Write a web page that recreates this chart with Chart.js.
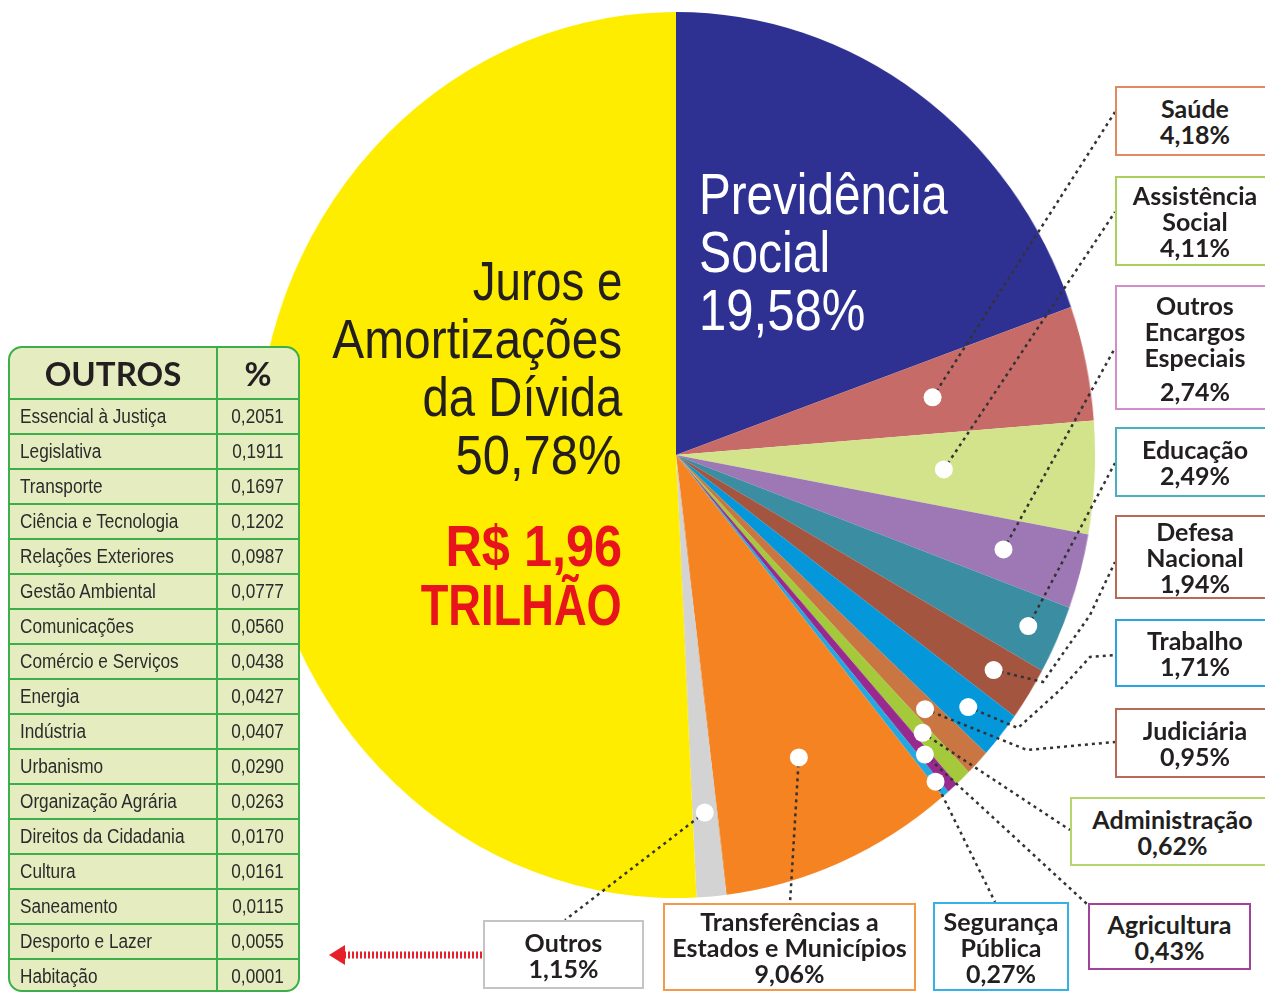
<!DOCTYPE html>
<html lang="pt-BR">
<head>
<meta charset="utf-8">
<title>Orçamento Geral da União</title>
<script src="https://cdn.jsdelivr.net/npm/chart.js@4.4.1/dist/chart.umd.min.js"></script>
<style>
    body { margin: 0; background: #fff; overflow: hidden; }
    #stage { position: relative; width: 1265px; height: 993px; overflow: hidden; }
    /* pie is drawn round and squeezed a little sideways, like the original */
    #pie { position: absolute; left: 233px; top: 12px; transform: scaleX(0.946); transform-origin: 443px 0; }
    #overlay { position: absolute; left: 0; top: 0; }
    .pieText { position: absolute; font-family: "Liberation Sans", Arial, sans-serif; white-space: nowrap; }
    .pieText span { display: inline-block; }
    .box {
        position: absolute; box-sizing: border-box; background: #fff;
        border: 2.5px solid #999; display: flex; flex-direction: column;
        justify-content: center; align-items: center; text-align: center;
        font-family: Lato, "Open Sans", sans-serif; font-weight: 700;
        font-size: 25px; line-height: 26px; color: #231f20;
    }
    #others {
        position: absolute; left: 8px; top: 346px; width: 292px; height: 646px;
        border: 2px solid #3cae4a; border-radius: 14px; background: #e5edc0;
        overflow: hidden; box-sizing: border-box;
    }
    #others table { border-collapse: collapse; width: 100%; }
    #others td {
        border: 2px solid #3cae4a; height: 33px; padding: 0; color: #2b2b2b;
        font-family: "Liberation Sans", Arial, sans-serif; font-size: 20px;
    }
    #others td span { display: inline-block; transform: scaleX(0.86); }
    #others td:first-child { border-left: none; padding-left: 10px; }
    #others td:first-child span { transform-origin: 0 50%; }
    #others td:last-child { border-right: none; text-align: center; }
    #others tr:last-child td { border-bottom: none; }
    #others th {
        height: 48px; font-family: Lato, sans-serif; font-weight: 700; font-size: 33px;
        color: #231f20; border-right: 2px solid #3cae4a; border-bottom: 2px solid #3cae4a;
    }
    #others th:last-child { border-right: none; }
</style>
</head>
<body>
<div id="stage">
    <canvas id="pie" width="886" height="886"></canvas>
    <canvas id="overlay" width="1265" height="993"></canvas>
    <div id="texts"></div>
    <div id="boxes"></div>
    <div id="others"></div>
</div>
<script>
// Functional areas of the federal budget, clockwise from 12 o'clock
const categories = [
    'Previdência Social', 'Saúde', 'Assistência Social', 'Outros Encargos Especiais',
    'Educação', 'Defesa Nacional', 'Trabalho', 'Judiciária', 'Administração',
    'Agricultura', 'Segurança Pública', 'Transferências a Estados e Municípios',
    'Outros', 'Juros e Amortizações da Dívida'
];
const shares = [19.58, 4.18, 4.11, 2.74, 2.49, 1.94, 1.71, 0.95, 0.62, 0.43, 0.27, 9.06, 1.15, 50.78];
const totalLabel = ['R$ 1,96', 'TRILHÃO'];

// "Outros" breakdown table
const otherNames = [
    'Essencial à Justiça', 'Legislativa', 'Transporte', 'Ciência e Tecnologia',
    'Relações Exteriores', 'Gestão Ambiental', 'Comunicações', 'Comércio e Serviços',
    'Energia', 'Indústria', 'Urbanismo', 'Organização Agrária', 'Direitos da Cidadania',
    'Cultura', 'Saneamento', 'Desporto e Lazer', 'Habitação'
];
const otherShares = [0.2051, 0.1911, 0.1697, 0.1202, 0.0987, 0.0777, 0.0560, 0.0438,
    0.0427, 0.0407, 0.0290, 0.0263, 0.0170, 0.0161, 0.0115, 0.0055, 0.0001];

const sliceColors = ['#2e3192', '#c66b68', '#d3e38b', '#9e77b5', '#3b8da2', '#a35540',
    '#0497da', '#c97642', '#a4c93a', '#982a8f', '#22a9e1', '#f58322', '#d3d3d3', '#ffed00'];

// label boxes: line breaks, box rect, border colour, white dot radius (fraction) and leader path
const boxLines = [null, ['Saúde'], ['Assistência', 'Social'], ['Outros', 'Encargos', 'Especiais'],
    ['Educação'], ['Defesa', 'Nacional'], ['Trabalho'], ['Judiciária'], ['Administração'],
    ['Agricultura'], ['Segurança', 'Pública'], ['Transferências a', 'Estados e Municípios'], ['Outros'], null];
const boxLayout = [
    null,
    { x: 1115, y: 86, w: 160, h: 70, color: '#e08a64', dot: 0.626, path: [[1115, 112]] },
    { x: 1115, y: 176, w: 160, h: 90, color: '#a8d05a', dot: 0.64, path: [[1115, 212]] },
    { x: 1115, y: 285, w: 160, h: 125, color: '#d68cc9', dot: 0.81, path: [[1115, 348]], gap: 8 },
    { x: 1115, y: 427, w: 160, h: 70, color: '#4bafc2', dot: 0.925, path: [[1115, 463]] },
    { x: 1115, y: 515, w: 160, h: 84, color: '#b86a55', dot: 0.9, path: [[1043, 682], [1090, 615], [1115, 562]] },
    { x: 1115, y: 619, w: 160, h: 68, color: '#2ba3e0', dot: 0.9, path: [[1018, 728], [1060, 690], [1090, 657], [1115, 655]] },
    { x: 1115, y: 708, w: 160, h: 70, color: '#b86a55', dot: 0.826, path: [[1027, 750], [1115, 742]] },
    { x: 1070, y: 797, w: 205, h: 69, color: '#b4d66a', dot: 0.86, path: [[1070, 830]] },
    { x: 1088, y: 903, w: 163, h: 67, color: '#a0449a', dot: 0.9, path: [[1088, 905]] },
    { x: 933, y: 902, w: 136, h: 89, color: '#36b2e6', dot: 0.963, path: [[995, 902]] },
    { x: 663, y: 903, w: 253, h: 88, color: '#f39a4a', dot: 0.743, path: [[790, 903]] },
    { x: 483, y: 920, w: 161, h: 69, color: '#c4c4c4', dot: 0.81, path: [[565, 920]] },
    null
];

const fmt = (v, d) => v.toFixed(d).replace('.', ',');

// pie canvas -> page coordinates (canvas sits at 233,12 and is squeezed around its centre)
const squeeze = 0.946;
const toPage = (x, y) => [233 + 443 + (x - 443) * squeeze, 12 + y];

// Leader lines, white dots and the red arrow, drawn on the page-sized overlay
const leaderPlugin = {
    id: 'leaders',
    afterDatasetsDraw(chart) {
        const ctx = document.getElementById('overlay').getContext('2d');
        const arcs = chart.getDatasetMeta(0).data;
        const dots = [];
        ctx.save();
        ctx.strokeStyle = '#333';
        ctx.lineWidth = 2.5;
        ctx.setLineDash([3, 4]);
        arcs.forEach((arc, i) => {
            const box = boxLayout[i];
            if (!box) return;
            const p = arc.getProps(['x', 'y', 'startAngle', 'endAngle', 'outerRadius'], true);
            const mid = (p.startAngle + p.endAngle) / 2;
            const d = toPage(p.x + Math.cos(mid) * p.outerRadius * box.dot,
                p.y + Math.sin(mid) * p.outerRadius * box.dot);
            dots.push(d);
            ctx.beginPath();
            ctx.moveTo(d[0], d[1]);
            box.path.forEach(pt => ctx.lineTo(pt[0], pt[1]));
            ctx.stroke();
        });
        ctx.setLineDash([]);
        ctx.fillStyle = '#fff';
        dots.forEach(d => {
            ctx.beginPath();
            ctx.arc(d[0], d[1], 9, 0, Math.PI * 2);
            ctx.fill();
        });
        // red arrow pointing to the table
        ctx.strokeStyle = '#e8202a';
        ctx.lineWidth = 7;
        ctx.setLineDash([2, 2]);
        ctx.beginPath();
        ctx.moveTo(482, 955);
        ctx.lineTo(342, 955);
        ctx.stroke();
        ctx.setLineDash([]);
        ctx.fillStyle = '#e8202a';
        ctx.beginPath();
        ctx.moveTo(329, 955);
        ctx.lineTo(345, 945);
        ctx.lineTo(345, 965);
        ctx.closePath();
        ctx.fill();
        ctx.restore();
    }
};

new Chart(document.getElementById('pie').getContext('2d'), {
    type: 'pie',
    data: {
        labels: categories,
        datasets: [{
            data: shares,
            backgroundColor: sliceColors,
            borderWidth: 0
        }]
    },
    options: {
        responsive: false,
        animation: false,
        layout: { padding: 0 },
        plugins: { legend: { display: false }, tooltip: { enabled: false } }
    },
    plugins: [leaderPlugin]
});

// Texts inside the pie, each line narrowed on its own
const texts = document.getElementById('texts');
function addText(lines, scales, style, origin) {
    const div = document.createElement('div');
    div.className = 'pieText';
    div.innerHTML = lines.map((s, i) =>
        '<div><span style="transform:scaleX(' + scales[i] + ');transform-origin:' + origin + ' 50%">' + s + '</span></div>'
    ).join('');
    Object.assign(div.style, style);
    texts.appendChild(div);
}
addText(['Previdência', 'Social', fmt(shares[0], 2) + '%'], [0.835, 0.845, 0.86],
    { left: '699px', top: '165px', color: '#fff', fontSize: '57px', lineHeight: '58px' }, 'left');
addText(['Juros e', 'Amortizações', 'da Dívida', fmt(shares[13], 2) + '%'], [0.83, 0.87, 0.86, 0.89],
    { right: (1265 - 622) + 'px', top: '252px', color: '#231f20', fontSize: '55px', lineHeight: '58px', textAlign: 'right' }, 'right');
addText(totalLabel, [0.87, 0.78],
    { right: (1265 - 622) + 'px', top: '516px', color: '#e8141b', fontWeight: '700', fontSize: '58px', lineHeight: '59px', textAlign: 'right' }, 'right');

// Label boxes
const boxes = document.getElementById('boxes');
boxLayout.forEach((b, i) => {
    if (!b) return;
    const div = document.createElement('div');
    div.className = 'box';
    Object.assign(div.style, {
        left: b.x + 'px', top: b.y + 'px', width: b.w + 'px', height: b.h + 'px', borderColor: b.color
    });
    div.innerHTML = boxLines[i].map(s => '<div>' + s + '</div>').join('') +
        '<div style="margin-top:' + (b.gap || 0) + 'px">' + fmt(shares[i], 2) + '%</div>';
    boxes.appendChild(div);
});

// Table of the small functions grouped as "Outros"
let rows = '<tr><th>OUTROS</th><th>%</th></tr>';
otherNames.forEach((name, i) => {
    rows += '<tr><td><span>' + name + '</span></td><td><span>' + fmt(otherShares[i], 4) + '</span></td></tr>';
});
document.getElementById('others').innerHTML =
    '<table><colgroup><col style="width:207px"><col></colgroup>' + rows + '</table>';
</script>
</body>
</html>
